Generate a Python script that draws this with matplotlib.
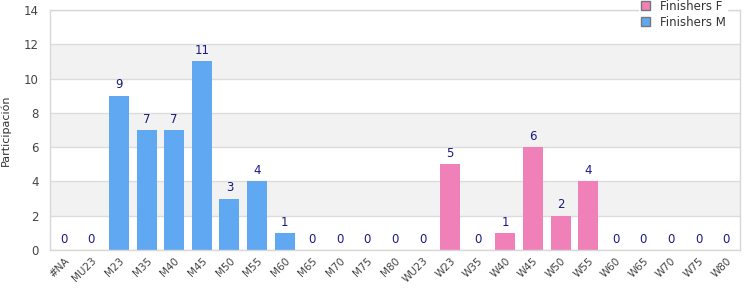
import matplotlib
matplotlib.use("Agg")
import matplotlib.pyplot as plt
from matplotlib.patches import Patch
import numpy as np

categories = ["#NA", "MU23", "M23", "M35", "M40", "M45", "M50", "M55", "M60", "M65",
              "M70", "M75", "M80", "WU23", "W23", "W35", "W40", "W45", "W50", "W55",
              "W60", "W65", "W70", "W75", "W80"]
finishers_m = [0, 0, 9, 7, 7, 11, 3, 4, 1, 0, 0, 0, 0, 0, 0, 0, 0, 0, 0, 0, 0, 0, 0, 0, 0]
finishers_f = [0, 0, 0, 0, 0, 0, 0, 0, 0, 0, 0, 0, 0, 0, 5, 0, 1, 6, 2, 4, 0, 0, 0, 0, 0]

col_m = "#60a8f2"
col_f = "#f080b8"
label_col = "#1a1a80"
tick_col = "#444444"

fig = plt.figure(figsize=(7.5, 3.0), dpi=100)
ax = fig.add_axes([50/750, 50/300, 690/750, 240/300])

x = np.arange(len(categories))
ax.set_xlim(-0.5, len(categories) - 0.5)
ax.set_ylim(0, 14)

for lo in (2, 6, 10):
    ax.axhspan(lo, lo + 2, color="#f2f2f2", zorder=0, lw=0)
for y in range(0, 15, 2):
    ax.axhline(y, color="#dcdcdc", lw=1, zorder=1)

w = 0.72
ax.bar(x, finishers_m, width=w, color=col_m, zorder=2)
ax.bar(x, finishers_f, width=w, color=col_f, zorder=2)

for i in range(len(categories)):
    v = finishers_m[i] + finishers_f[i]
    ax.text(x[i], v + 0.25, str(v), ha="center", va="bottom", fontsize=8.5,
            color=label_col, zorder=3)

ax.set_xticks(x)
ax.set_xticklabels(categories, rotation=45, ha="right", rotation_mode="anchor",
                   fontsize=7.5, color=tick_col)
ax.set_yticks(range(0, 15, 2))
ax.tick_params(axis="y", labelsize=8.5, colors=tick_col, length=0, pad=8)
ax.tick_params(axis="x", length=0, pad=4)

for s in ax.spines.values():
    s.set_color("#d8d8d8")
    s.set_linewidth(1)

ax.set_ylabel("Participación", fontsize=8, color="#333333")
ax.yaxis.set_label_coords(-0.056, 0.5)

handles = [Patch(facecolor=col_f, edgecolor="#777777", label="Finishers F"),
           Patch(facecolor=col_m, edgecolor="#777777", label="Finishers M")]
leg = ax.legend(handles=handles, loc="upper right", bbox_to_anchor=(0.99, 1.075),
                fontsize=8.5, frameon=True, handlelength=0.8, handleheight=0.8,
                handletextpad=0.8, labelspacing=0.25, borderpad=0.15)
leg.get_frame().set_edgecolor("white")
leg.get_frame().set_facecolor("white")
leg.get_frame().set_alpha(1)
leg.set_zorder(5)
leg.set_clip_on(False)
for t in leg.get_texts():
    t.set_color("#333333")

fig.savefig("out.png", dpi=100)
